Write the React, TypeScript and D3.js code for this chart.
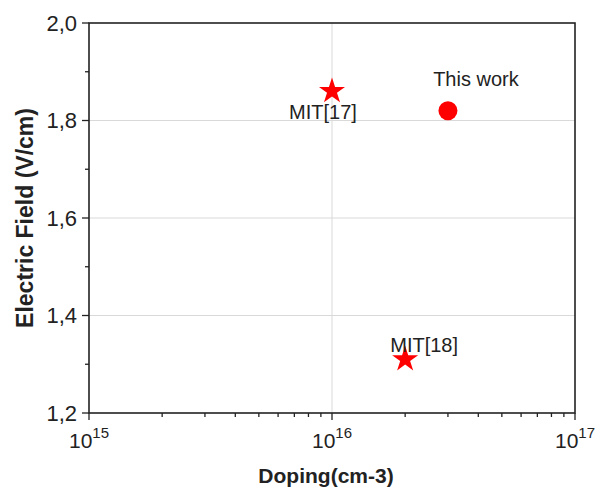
import React, { useEffect, useRef } from 'react';
import * as d3 from 'd3';

const xTicks = [1e15, 1e16, 1e17];
const xExponents = ['15', '16', '17'];
const yTicks = [1.2, 1.4, 1.6, 1.8, 2.0];
const yMinorTicks = [1.3, 1.5, 1.7, 1.9];

const starLabels = ['MIT[17]', 'MIT[18]'];
const starDoping = [1e16, 2e16];
const starField = [1.86, 1.31];

const workLabel = 'This work';
const workDoping = [3e16];
const workField = [1.82];

const width = 612;
const height = 492;

export default function App() {
  const svgRef = useRef<SVGSVGElement>(null);

  useEffect(() => {
    if (!svgRef.current) return;
    const svg = d3.select(svgRef.current);
    svg.selectAll('*').remove();

    const margin = { top: 23, right: 37, bottom: 79, left: 89 };
    const innerWidth = width - margin.left - margin.right;
    const innerHeight = height - margin.top - margin.bottom;
    const font = '"Liberation Sans", Arial, sans-serif';

    const g = svg.append('g').attr('transform', `translate(${margin.left},${margin.top})`);

    const x = d3.scaleLog().domain([1e15, 1e17]).range([0, innerWidth]);
    const y = d3.scaleLinear().domain([1.2, 2.0]).range([innerHeight, 0]);

    const xMinor: number[] = [];
    [1e15, 1e16].forEach(base => {
      for (let k = 2; k <= 9; k++) xMinor.push(base * k);
    });

    // Grid lines
    g.append('g')
      .selectAll('line')
      .data(xTicks.slice(1, -1))
      .join('line')
      .attr('x1', d => x(d)).attr('x2', d => x(d))
      .attr('y1', 0).attr('y2', innerHeight)
      .attr('stroke', '#d9d9d9').attr('stroke-width', 1);

    g.append('g')
      .selectAll('line')
      .data(yTicks.slice(1, -1))
      .join('line')
      .attr('x1', 0).attr('x2', innerWidth)
      .attr('y1', d => y(d)).attr('y2', d => y(d))
      .attr('stroke', '#d9d9d9').attr('stroke-width', 1);

    // Frame
    g.append('rect')
      .attr('x', 0).attr('y', 0)
      .attr('width', innerWidth).attr('height', innerHeight)
      .attr('fill', 'none').attr('stroke', '#222').attr('stroke-width', 1.6);

    // X ticks
    g.append('g')
      .selectAll('line')
      .data(xTicks)
      .join('line')
      .attr('x1', d => x(d)).attr('x2', d => x(d))
      .attr('y1', innerHeight).attr('y2', innerHeight + 7)
      .attr('stroke', '#222').attr('stroke-width', 1.3);
    g.append('g')
      .selectAll('line')
      .data(xMinor)
      .join('line')
      .attr('x1', d => x(d)).attr('x2', d => x(d))
      .attr('y1', innerHeight).attr('y2', innerHeight + 4)
      .attr('stroke', '#222').attr('stroke-width', 1.3);

    const xl = g.append('g')
      .selectAll('text')
      .data(xTicks)
      .join('text')
      .attr('x', d => x(d))
      .attr('y', innerHeight + 35)
      .attr('text-anchor', 'middle')
      .attr('font-family', font)
      .attr('font-size', 21)
      .attr('fill', '#222');
    xl.append('tspan').text('10');
    xl.append('tspan')
      .attr('dy', -10)
      .attr('font-size', 15)
      .text((d, i) => xExponents[i]);

    // Y ticks
    g.append('g')
      .selectAll('line')
      .data(yTicks)
      .join('line')
      .attr('x1', -7).attr('x2', 0)
      .attr('y1', d => y(d)).attr('y2', d => y(d))
      .attr('stroke', '#222').attr('stroke-width', 1.3);
    g.append('g')
      .selectAll('line')
      .data(yMinorTicks)
      .join('line')
      .attr('x1', -4).attr('x2', 0)
      .attr('y1', d => y(d)).attr('y2', d => y(d))
      .attr('stroke', '#222').attr('stroke-width', 1.3);
    g.append('g')
      .selectAll('text')
      .data(yTicks)
      .join('text')
      .attr('x', -12)
      .attr('y', d => y(d))
      .attr('dy', '0.36em')
      .attr('text-anchor', 'end')
      .attr('font-family', font)
      .attr('font-size', 22)
      .attr('fill', '#222')
      .text(d => d.toFixed(1).replace('.', ','));

    // Axis titles
    g.append('text')
      .attr('x', innerWidth / 2 - 6)
      .attr('y', innerHeight + 70)
      .attr('text-anchor', 'middle')
      .attr('font-family', font)
      .attr('font-weight', 'bold')
      .attr('font-size', 21)
      .attr('fill', '#222')
      .text('Doping(cm-3)');

    g.append('text')
      .attr('transform', `translate(-56,${innerHeight / 2}) rotate(-90)`)
      .attr('text-anchor', 'middle')
      .attr('font-family', font)
      .attr('font-weight', 'bold')
      .attr('font-size', 23)
      .attr('fill', '#222')
      .text('Electric Field (V/cm)');

    // Stars
    const star = d3.symbol().type(d3.symbolStar).size(210);
    g.append('g')
      .selectAll('path')
      .data(starDoping)
      .join('path')
      .attr('d', star)
      .attr('transform', (d, i) => `translate(${x(d)},${y(starField[i])})`)
      .attr('fill', '#ff0000');

    const starLabelDx = [-9, 19];
    const starLabelDy = [28, -7];
    g.append('g')
      .selectAll('text')
      .data(starDoping)
      .join('text')
      .attr('x', (d, i) => x(d) + starLabelDx[i])
      .attr('y', (d, i) => y(starField[i]) + starLabelDy[i])
      .attr('text-anchor', 'middle')
      .attr('font-family', font)
      .attr('font-size', 20)
      .attr('fill', '#222')
      .text((d, i) => starLabels[i]);

    // This work
    g.append('g')
      .selectAll('circle')
      .data(workDoping)
      .join('circle')
      .attr('cx', d => x(d))
      .attr('cy', (d, i) => y(workField[i]))
      .attr('r', 9.5)
      .attr('fill', '#ff0000');

    g.append('text')
      .attr('x', x(workDoping[0]) + 28)
      .attr('y', y(workField[0]) - 25)
      .attr('text-anchor', 'middle')
      .attr('font-family', font)
      .attr('font-size', 20)
      .attr('fill', '#222')
      .text(workLabel);
  }, []);

  return (
    <div style={{ position: 'absolute', left: 0, top: 0, background: '#fff' }}>
      <svg ref={svgRef} width={width} height={height} style={{ display: 'block' }} />
    </div>
  );
}
